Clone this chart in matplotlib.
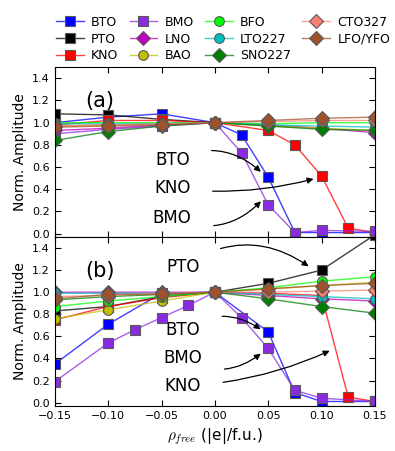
import matplotlib
matplotlib.use('Agg')
import matplotlib.pyplot as plt
from matplotlib.colors import to_rgba

plt.rcParams['font.family'] = ['DejaVu Sans']
plt.rcParams['mathtext.fontset'] = 'cm'

# x grids (|e|/f.u.)
x_full = [-0.15, -0.10, -0.05, 0.0, 0.05, 0.10, 0.15]
x_neg = [-0.15, -0.10, -0.05, 0.0]

names = ['BTO', 'PTO', 'KNO', 'BMO', 'LNO', 'BAO', 'BFO', 'LTO227', 'SNO227', 'CTO327', 'LFO/YFO']
colors = ['#0000ff', '#000000', '#ff0000', '#8a2be2', '#bf00bf', '#bfbf00', '#00ff00',
          '#00bfbf', '#007f00', '#fa8072', '#a0522d']
markers = ['s', 's', 's', 's', 'D', 'o', 'o', 'o', 'D', 'D', 'D']

# panel (a)
a_x = {
    'BTO': [-0.15, -0.10, -0.05, 0.0, 0.025, 0.05, 0.075, 0.10, 0.15],
    'PTO': x_neg,
    'KNO': [-0.15, -0.10, -0.05, 0.0, 0.05, 0.075, 0.10, 0.125, 0.15],
    'BMO': [-0.15, -0.10, -0.05, 0.0, 0.025, 0.05, 0.075, 0.10, 0.15],
}
a_y = {
    'BTO': [1.00, 1.05, 1.08, 1.0, 0.89, 0.51, 0.01, 0.01, 0.01],
    'PTO': [1.08, 1.07, 1.03, 1.0],
    'KNO': [0.98, 1.02, 1.02, 1.0, 0.93, 0.80, 0.52, 0.05, 0.01],
    'BMO': [0.90, 0.94, 0.97, 1.0, 0.73, 0.26, 0.01, 0.03, 0.02],
    'LNO': [0.93, 0.95, 0.98, 1.0, 0.98, 0.95, 0.91],
    'BAO': [0.97, 0.98, 0.99, 1.0, 0.97, 0.95, 0.93],
    'BFO': [1.00, 1.00, 1.00, 1.0, 0.99, 1.00, 1.00],
    'LTO227': [0.99, 0.99, 0.99, 1.0, 0.98, 0.97, 0.96],
    'SNO227': [0.84, 0.92, 0.97, 1.0, 0.97, 0.94, 0.93],
    'CTO327': [0.97, 0.98, 0.99, 1.0, 1.01, 1.02, 1.02],
    'LFO/YFO': [0.96, 0.97, 0.98, 1.0, 1.02, 1.04, 1.05],
}

# panel (b)
b_x = {
    'BTO': [-0.15, -0.10, -0.05, 0.0, 0.05, 0.075, 0.10, 0.15],
    'KNO': [-0.15, -0.10, -0.05, 0.0, 0.05, 0.10, 0.125, 0.15],
    'BMO': [-0.15, -0.10, -0.075, -0.05, -0.025, 0.0, 0.025, 0.05, 0.075, 0.10, 0.15],
}
b_y = {
    'BTO': [0.35, 0.71, 0.99, 1.0, 0.64, 0.09, 0.01, 0.01],
    'PTO': [0.83, 0.87, 0.96, 1.0, 1.08, 1.20, 1.52],
    'KNO': [0.75, 0.87, 0.95, 1.0, 0.99, 0.97, 0.05, 0.01],
    'BMO': [0.19, 0.54, 0.66, 0.77, 0.88, 1.0, 0.77, 0.49, 0.11, 0.04, 0.01],
    'LNO': [1.00, 1.00, 1.00, 1.0, 0.97, 0.94, 0.92],
    'BAO': [0.76, 0.84, 0.92, 1.0, 1.03, 1.06, 1.09],
    'BFO': [0.87, 0.92, 0.96, 1.0, 1.04, 1.10, 1.14],
    'LTO227': [0.99, 0.99, 0.99, 1.0, 0.98, 0.96, 0.94],
    'SNO227': [0.93, 0.96, 0.98, 1.0, 0.94, 0.87, 0.81],
    'CTO327': [0.96, 0.97, 0.99, 1.0, 1.00, 1.01, 1.02],
    'LFO/YFO': [0.94, 0.98, 0.98, 1.0, 1.03, 1.06, 1.08],
}

# annotations: (label, text xy, arrow tip xy, rad)
a_notes = [('BTO', (-0.04, 0.66), (0.045, 0.54), -0.35),
           ('KNO', (-0.04, 0.41), (0.095, 0.50), 0.1),
           ('BMO', (-0.04, 0.14), (0.045, 0.31), 0.35)]
b_notes = [('PTO', (-0.03, 1.23), (0.09, 1.22), -0.35),
           ('BTO', (-0.03, 0.66), (0.045, 0.65), -0.35),
           ('BMO', (-0.03, 0.40), (0.045, 0.46), 0.35),
           ('KNO', (-0.03, 0.15), (0.11, 0.48), 0.1)]

fig = plt.figure(figsize=(3.95, 4.51), dpi=100)
ax1 = fig.add_axes([0.139, 0.4745, 0.810, 0.3765])
ax2 = fig.add_axes([0.139, 0.100, 0.810, 0.3745], sharex=ax1)


def draw(ax, xs, ys, notes, label):
    handles = []
    for n, c, m in zip(names, colors, markers):
        x = xs.get(n, x_full)
        ms = 6.5 if m == 's' else (7 if m == 'o' else 7.5)
        h, = ax.plot(x, ys[n], color=to_rgba(c, 0.75), lw=1.0, marker=m, ms=ms,
                     markerfacecolor=c, markeredgecolor='0.35', markeredgewidth=0.8,
                     label=n)
        handles.append(h)
    for t, xy, tip, rad in notes:
        ax.annotate(t, xy=tip, xytext=xy, fontsize=12, ha='center', va='center',
                    arrowprops=dict(arrowstyle='-|>', color='k', lw=0.9,
                                    connectionstyle='arc3,rad=%s' % rad,
                                    shrinkA=14, shrinkB=2, mutation_scale=9))
    ax.text(0.14, 0.80, label, transform=ax.transAxes, fontsize=15, ha='center', va='center')
    ax.set_ylim(-0.03, 1.5)
    ax.set_yticks([0.0, 0.2, 0.4, 0.6, 0.8, 1.0, 1.2, 1.4])
    ax.set_ylabel('Norm. Amplitude', fontsize=10)
    ax.tick_params(direction='in', top=True, right=True, labelsize=8, length=4)
    return handles


handles = draw(ax1, a_x, a_y, a_notes, '(a)')
draw(ax2, b_x, b_y, b_notes, '(b)')
ax2.set_xlim(-0.15, 0.15)
ax2.set_xticks([-0.15, -0.10, -0.05, 0.0, 0.05, 0.10, 0.15])
ax2.set_xlabel(r'$\rho_{free}$ (|e|/f.u.)', fontsize=11)
plt.setp(ax1.get_xticklabels(), visible=False)

fig.legend(handles=handles, loc='upper center', bbox_to_anchor=(0.565, 0.99), ncol=4,
           frameon=False, fontsize=9, handlelength=2.2, columnspacing=0.9,
           labelspacing=0.3, handletextpad=0.6, numpoints=1)

fig.savefig('out.png', dpi=100)
